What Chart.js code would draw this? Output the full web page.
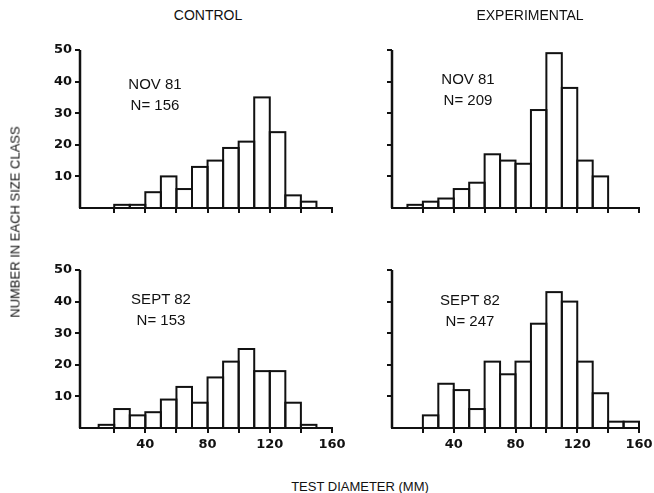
<!DOCTYPE html>
<html>
<head>
<meta charset="utf-8">
<script src="https://cdn.jsdelivr.net/npm/chart.js@4.4.0/dist/chart.umd.min.js"></script>
<style>
  html, body { margin: 0; padding: 0; background: #fff; overflow: hidden; }
  #wrap { position: relative; width: 654px; height: 493px; font-family: "Liberation Sans", Arial, sans-serif; color: #111; }
  #wrap canvas { position: absolute; }
  .lbl { position: absolute; transform: translate(-50%, -50%); white-space: nowrap; }
  .head { font-size: 14px; }
  .note { font-size: 15px; text-align: center; line-height: 21px; }
  .axis { font-size: 13px; }
</style>
</head>
<body>
<div id="wrap">
  <canvas id="c0" width="347" height="200" style="left:0;top:40px"></canvas>
  <canvas id="c1" width="342" height="200" style="left:312px;top:40px"></canvas>
  <canvas id="c2" width="347" height="200" style="left:0;top:260px"></canvas>
  <canvas id="c3" width="342" height="200" style="left:312px;top:260px"></canvas>

  <div class="lbl head" style="left:208px;top:15px">CONTROL</div>
  <div class="lbl head" style="left:530px;top:15px">EXPERIMENTAL</div>
  <div class="lbl axis" style="left:15px;top:222px;transform:translate(-50%,-50%) rotate(-90deg)">NUMBER IN EACH SIZE CLASS</div>
  <div class="lbl axis" style="left:360px;top:486px">TEST DIAMETER (MM)</div>

  <div class="lbl note" style="left:155px;top:94px">NOV 81<br>N= 156</div>
  <div class="lbl note" style="left:468px;top:89px">NOV 81<br>N= 209</div>
  <div class="lbl note" style="left:161px;top:309px">SEPT 82<br>N= 153</div>
  <div class="lbl note" style="left:470px;top:310px">SEPT 82<br>N= 247</div>
</div>
<script>
// size classes, 10 mm wide, by lower edge
const binStarts = [0, 10, 20, 30, 40, 50, 60, 70, 80, 90, 100, 110, 120, 130, 140, 150];
const controlNov81 = [0, 0, 1, 1, 5, 10, 6, 13, 15, 19, 21, 35, 24, 4, 2, 0];
const experimentalNov81 = [0, 1, 2, 3, 6, 8, 17, 15, 14, 31, 49, 38, 15, 10, 0, 0];
const controlSept82 = [0, 1, 6, 4, 5, 9, 13, 8, 16, 21, 25, 18, 18, 8, 1, 0];
const experimentalSept82 = [0, 0, 4, 14, 12, 6, 21, 17, 21, 33, 43, 40, 21, 11, 2, 2];
const xTicks = [20, 40, 60, 80, 100, 120, 140, 160];
const xLabels = [40, 80, 120, 160];
const yTicks = [10, 20, 30, 40, 50];

const INK = '#111';
const tickFont = { family: '"DejaVu Sans", sans-serif', size: 13, weight: 'bold' };

// bars as single outlines (shared edges stay one line), plus the two axis lines
const outlinePlugin = {
    id: 'outline',
    afterDraw(chart) {
        const ctx = chart.ctx;
        const xs = chart.scales.x;
        const ys = chart.scales.y;
        const bars = chart.getDatasetMeta(0).data;
        ctx.save();
        ctx.strokeStyle = INK;
        ctx.lineWidth = 2;
        bars.forEach(bar => {
            if (bar.base - bar.y < 0.5) return;
            ctx.strokeRect(bar.x - bar.width / 2, bar.y, bar.width, bar.base - bar.y);
        });
        // axis corner and top taken from the same pixels the ticks and bars use
        const left = Math.round(xs.getPixelForValue(xs.min));
        const right = Math.round(xs.getPixelForValue(xs.max));
        const bottom = Math.round(bars[0].base);
        const top = Math.round(ys.getPixelForTick(ys.ticks.length - 1));
        ctx.beginPath();
        ctx.lineWidth = 2.5;
        ctx.moveTo(left, bottom);
        ctx.lineTo(left, top);
        ctx.stroke();
        ctx.fillStyle = INK;
        ctx.fillRect(left - 1, bottom - 1, right - left + 2, 2);
        ctx.restore();
    }
};

function makePanel(id, counts, showY, showX, xMin) {
    const points = binStarts.map((s, i) => ({ x: s + 5, y: counts[i] }));
    new Chart(document.getElementById(id), {
        type: 'bar',
        data: {
            datasets: [{
                data: points,
                backgroundColor: '#fff',
                borderWidth: 0,
                barPercentage: 1,
                categoryPercentage: 1
            }]
        },
        options: {
            responsive: false,
            animation: false,
            devicePixelRatio: 1,
            layout: { padding: { top: 10, right: 15, left: 0, bottom: 0 } },
            plugins: { legend: { display: false }, tooltip: { enabled: false } },
            scales: {
                x: {
                    type: 'linear',
                    min: xMin,
                    max: 160,
                    offset: false,
                    afterBuildTicks: axis => { axis.ticks = xTicks.map(v => ({ value: v })); },
                    afterFit: scale => { scale.height = 32; scale.paddingLeft = 0; scale.paddingRight = 0; },
                    grid: { offset: false, drawOnChartArea: false, drawTicks: true, tickLength: 5, color: INK, lineWidth: 2 },
                    border: { display: false },
                    ticks: {
                        padding: 4,
                        color: INK,
                        font: tickFont,
                        maxRotation: 0,
                        autoSkip: false,
                        callback: v => (showX && xLabels.includes(v)) ? String(v) : ''
                    }
                },
                y: {
                    min: 0,
                    max: 50,
                    afterBuildTicks: axis => { axis.ticks = yTicks.map(v => ({ value: v })); },
                    afterFit: scale => { scale.width = 80; scale.paddingTop = 0; scale.paddingBottom = 0; },
                    grid: { drawOnChartArea: false, drawTicks: true, tickLength: 5, color: INK, lineWidth: 2 },
                    border: { display: false },
                    ticks: {
                        padding: 3,
                        color: INK,
                        font: tickFont,
                        callback: v => showY ? String(v) : ''
                    }
                }
            }
        },
        plugins: [outlinePlugin]
    });
}

makePanel('c0', controlNov81, true, false, -2);
makePanel('c1', experimentalNov81, false, false, 0);
makePanel('c2', controlSept82, true, true, -2);
makePanel('c3', experimentalSept82, false, true, 0);
</script>
</body>
</html>
